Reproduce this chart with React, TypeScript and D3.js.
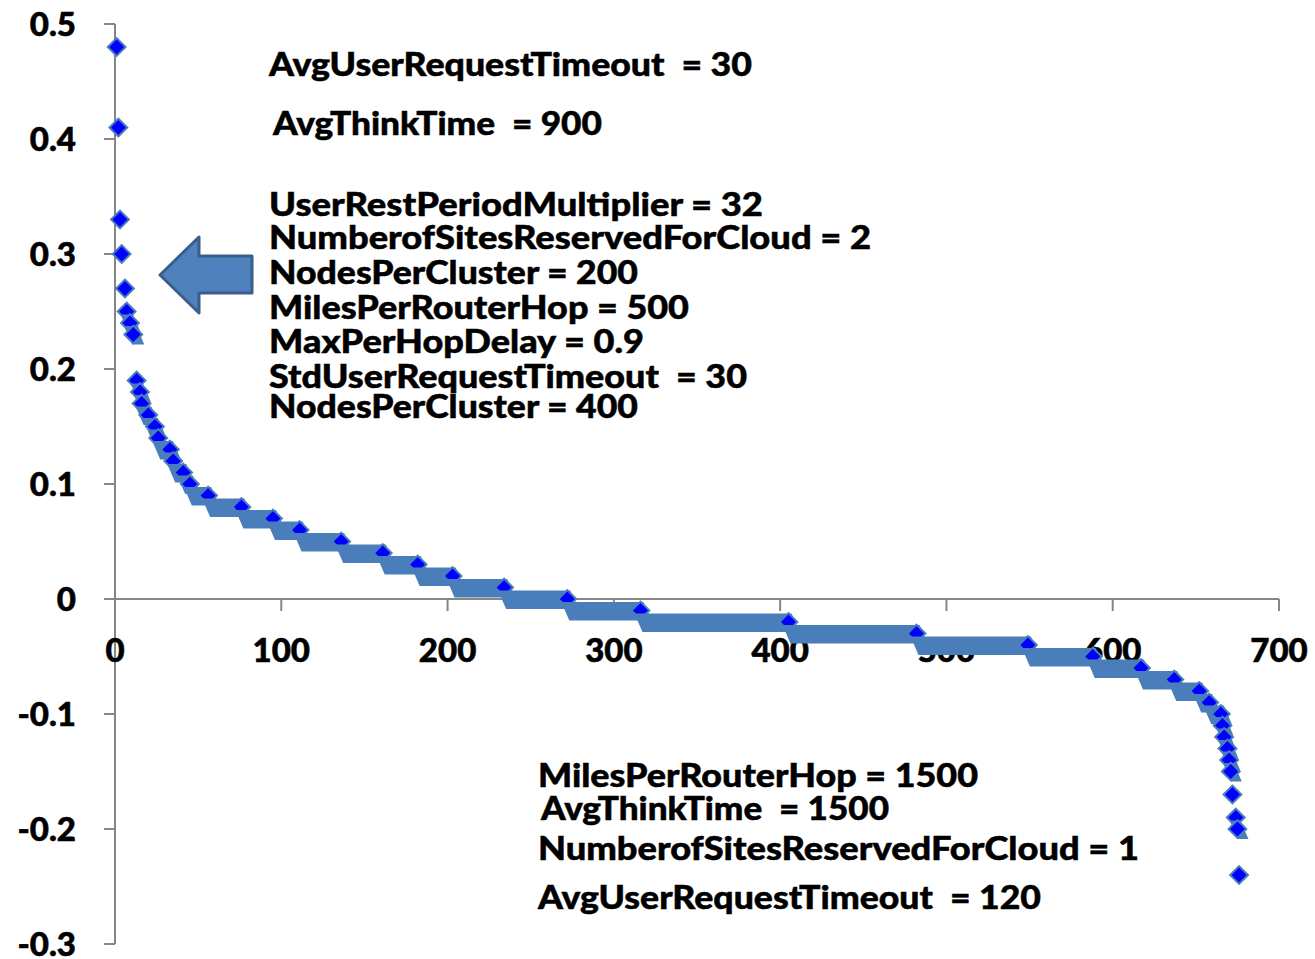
import React, { useEffect, useRef } from 'react';
import { line, scaleLinear, select } from 'd3';

// sorted response values: each level and the last run index that has it
const levelValues = [
  0.48, 0.41, 0.33, 0.30, 0.27, 0.25, 0.24, 0.23, 0.19, 0.18, 0.17, 0.16, 0.15, 0.14, 0.13, 0.12,
  0.11, 0.10, 0.09, 0.08, 0.07, 0.06, 0.05, 0.04, 0.03, 0.02, 0.01, 0.0, -0.01, -0.02, -0.03,
  -0.04, -0.05, -0.06, -0.07, -0.08, -0.09, -0.10, -0.11, -0.12, -0.13, -0.14, -0.15, -0.17,
  -0.19, -0.20, -0.24,
];
const levelEndIndex = [
  1, 2, 3, 4, 6, 7, 9, 11, 13, 15, 16, 20, 24, 26, 33, 35,
  41, 45, 56, 76, 95, 111, 136, 161, 182, 203, 234, 272, 316, 405, 482,
  549, 588, 617, 637, 652, 658, 665, 666, 667, 669, 670, 671, 672,
  674, 675, 676,
];

const xTicks = [0, 100, 200, 300, 400, 500, 600, 700];
const yTicks = [0.5, 0.4, 0.3, 0.2, 0.1, 0, -0.1, -0.2, -0.3];

const topNotes = [
  'AvgUserRequestTimeout  = 30',
  'AvgThinkTime  = 900',
  'UserRestPeriodMultiplier = 32',
  'NumberofSitesReservedForCloud = 2',
  'NodesPerCluster = 200',
  'MilesPerRouterHop = 500',
  'MaxPerHopDelay = 0.9',
  'StdUserRequestTimeout  = 30',
  'NodesPerCluster = 400',
];
const bottomNotes = [
  'MilesPerRouterHop = 1500',
  'AvgThinkTime  = 1500',
  'NumberofSitesReservedForCloud = 1',
  'AvgUserRequestTimeout  = 120',
];

// where the text boxes sit: [left, baseline, width]
const topNotePos = [
  [269, 76, 483], [273, 135, 329], [269, 216, 494], [269, 249, 602], [269, 284, 369],
  [269, 319, 420], [269, 353, 375], [269, 388, 478], [269, 418, 369],
];
const bottomNotePos = [[538, 787, 440], [541, 820, 348], [538, 860, 601], [538, 909, 503]];

const W = 1315;
const H = 959;
const FONT = 'Lato, "Open Sans", sans-serif';

const App = () => {
  const svgRef = useRef(null);

  useEffect(() => {
    const svg = select(svgRef.current);
    svg.selectAll('*').remove();

    const x = scaleLinear().domain([0, 700]).range([115, 1279]);
    const y = scaleLinear().domain([-0.3, 0.5]).range([944, 24]);

    const axisColor = '#868686';

    // y axis
    svg.append('line')
      .attr('x1', x(0)).attr('x2', x(0))
      .attr('y1', y(0.5)).attr('y2', y(-0.3))
      .attr('stroke', axisColor).attr('stroke-width', 2);
    svg.append('g').selectAll('line')
      .data(yTicks).join('line')
      .attr('x1', x(0) - 11).attr('x2', x(0))
      .attr('y1', d => y(d)).attr('y2', d => y(d))
      .attr('stroke', axisColor).attr('stroke-width', 2);
    svg.append('g').selectAll('text')
      .data(yTicks).join('text')
      .attr('x', 76).attr('y', d => y(d))
      .attr('dy', '0.36em')
      .attr('text-anchor', 'end')
      .attr('font-family', FONT).attr('font-weight', 900).attr('font-size', 33)
      .attr('stroke', '#000').attr('stroke-width', 0.6)
      .text(d => (d === 0 ? '0' : d.toFixed(1)));

    // x axis along zero
    svg.append('line')
      .attr('x1', x(0)).attr('x2', x(700))
      .attr('y1', y(0)).attr('y2', y(0))
      .attr('stroke', axisColor).attr('stroke-width', 2);
    svg.append('g').selectAll('line')
      .data(xTicks).join('line')
      .attr('x1', d => x(d)).attr('x2', d => x(d))
      .attr('y1', y(0)).attr('y2', y(0) + 12)
      .attr('stroke', axisColor).attr('stroke-width', 2);
    svg.append('g').selectAll('text')
      .data(xTicks).join('text')
      .attr('x', d => x(d)).attr('y', y(0) + 63)
      .attr('text-anchor', 'middle')
      .attr('font-family', FONT).attr('font-weight', 900).attr('font-size', 33)
      .attr('stroke', '#000').attr('stroke-width', 0.6)
      .text(d => d);

    // bands + markers, drawn in order so the next band hides the foot of the previous marker
    const bandLine = line();
    const marks = svg.append('g');
    levelValues.forEach((v, i) => {
      const cx = x(levelEndIndex[i]);
      const cy = y(v);
      if (i > 0 && levelValues[i - 1] - v < 0.011) {
        const a = x(levelEndIndex[i - 1]);
        const top = cy - 8.5;
        const bot = cy + 10;
        marks.append('path')
          .attr('d', bandLine([[a - 6, top], [cx + 3, top], [cx + 11, bot], [a + 2, bot]]) + 'Z')
          .attr('fill', '#4A7EBB');
      }
      marks.append('rect')
        .attr('x', -6.3).attr('y', -6.3)
        .attr('width', 12.6).attr('height', 12.6)
        .attr('transform', `translate(${cx},${cy}) rotate(45)`)
        .attr('fill', '#0000FF')
        .attr('stroke', '#4A7EBB')
        .attr('stroke-width', 2);
    });

    // arrow
    svg.append('path')
      .attr('d', 'M160,275 L199,237 L199,256 L252,256 L252,293 L199,293 L199,313 Z')
      .attr('fill', '#4F81BD')
      .attr('stroke', '#3A5F8B')
      .attr('stroke-width', 3)
      .attr('stroke-linejoin', 'round');

    const notes = (lines, pos) => {
      svg.append('g').selectAll('text')
        .data(lines).join('text')
        .attr('x', (d, i) => pos[i][0])
        .attr('y', (d, i) => pos[i][1])
        .attr('textLength', (d, i) => pos[i][2])
        .attr('lengthAdjust', 'spacingAndGlyphs')
        .attr('font-family', FONT).attr('font-weight', 900).attr('font-size', 33)
        .attr('fill', '#000')
        .attr('stroke', '#000').attr('stroke-width', 0.5)
        .style('white-space', 'pre')
        .text(d => d);
    };
    notes(topNotes, topNotePos);
    notes(bottomNotes, bottomNotePos);
  }, []);

  return (
    <svg
      ref={svgRef}
      width={W}
      height={H}
      style={{ position: 'absolute', left: 0, top: 0, background: '#fff' }}
    />
  );
};

export default App;
